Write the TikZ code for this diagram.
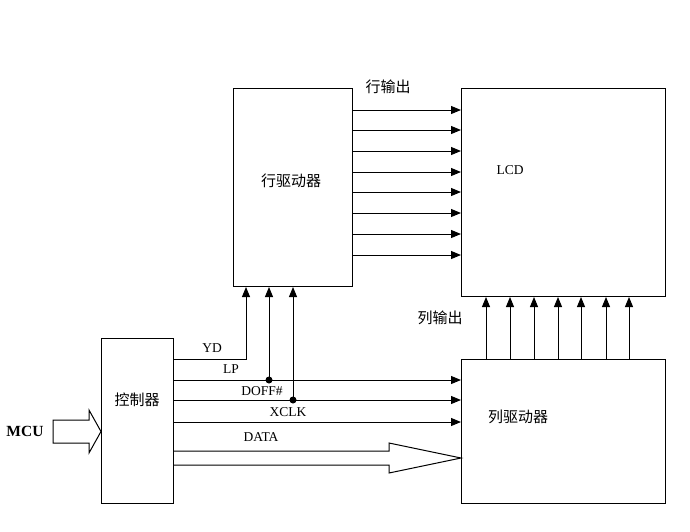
\documentclass[tikz,border=0pt]{standalone}
\usepackage{fontspec}
\setmainfont{Liberation Serif}
\newfontfamily\cjk{Noto Sans CJK SC}
\usetikzlibrary{arrows.meta}
\tikzset{
  blk/.style={draw, line width=1pt, inner sep=0pt, anchor=north west},
  arr/.style={line width=1pt, -{Triangle[length=10pt,width=8pt]}},
  ln/.style={line width=1pt},
  cn/.style={font=\cjk\fontsize{15}{18}\selectfont, inner sep=0pt},
  lat/.style={font=\fontsize{13.5}{16}\selectfont, inner sep=0pt},
  dot/.style={circle, fill=black, inner sep=0pt, minimum size=7pt}
}
\begin{document}
\begin{tikzpicture}[x=1pt,y=-1pt]
\useasboundingbox (0,0) rectangle (690,531);
\fill[white] (0,0) rectangle (690,531);
% blocks
\node[blk, minimum width=119pt, minimum height=198pt] (rd) at (233,88) {};
\node[blk, minimum width=204pt, minimum height=208pt] (lcd) at (461,88) {};
\node[blk, minimum width=204pt, minimum height=144pt] (cd) at (461,359) {};
\node[blk, minimum width=72pt, minimum height=165pt] (ctrl) at (101,338) {};
% texts
\node[cn] (t1) at (291,181) {行驱动器};
\node[cn] (t2) at (518,417) {列驱动器};
\node[cn] (t3) at (137,400) {控制器};
\node[cn] (t4) at (388,87) {行输出};
\node[cn] (t5) at (440,318) {列输出};
\node[lat] (t6) at (510,170) {LCD};
\node[lat] (t7) at (212,348) {YD};
\node[lat] (t8) at (231,369) {LP};
\node[lat] (t9) at (262,391) {DOFF\#};
\node[lat] (t10) at (288,412) {XCLK};
\node[lat] (t11) at (261,437) {DATA};
\node[lat, font=\bfseries\fontsize{15.5}{18}\selectfont] (mcu) at (25,431) {MCU};
% row outputs
\foreach \y in {110,130,151,172,192,213,234,255}
  \draw[arr] (rd.east |- 0,\y) -- (lcd.west |- 0,\y);
% column outputs
\foreach \x in {486,510,534,558,581,606,629}
  \draw[arr] (cd.north -| \x,0) -- (lcd.south -| \x,0);
% control signals
\draw[arr] (ctrl.east |- 0,359) -| (rd.south -| 246,0);
\draw[arr] (ctrl.east |- 0,380) -- (cd.west |- 0,380);
\draw[arr] (ctrl.east |- 0,400) -- (cd.west |- 0,400);
\draw[arr] (ctrl.east |- 0,422) -- (cd.west |- 0,422);
\node[dot] (j1) at (269,380) {};
\node[dot] (j2) at (293,400) {};
\draw[arr] (j1.center) -- (rd.south -| j1);
\draw[arr] (j2.center) -- (rd.south -| j2);
% DATA hollow arrow
\coordinate (dtip) at (cd.west |- 0,458);
\draw[ln, line join=miter] (ctrl.east |- 0,451) -- (389,451) -- (389,443) -- (dtip) -- (389,473) -- (389,465) -- (ctrl.east |- 0,465);
% MCU hollow arrow
\coordinate (mtip) at (ctrl.west |- 0,431.5);
\draw[ln, line join=miter] (53,420) -- (89,420) -- (89,410) -- (mtip) -- (89,453) -- (89,443) -- (53,443) -- cycle;
\end{tikzpicture}
\end{document}
